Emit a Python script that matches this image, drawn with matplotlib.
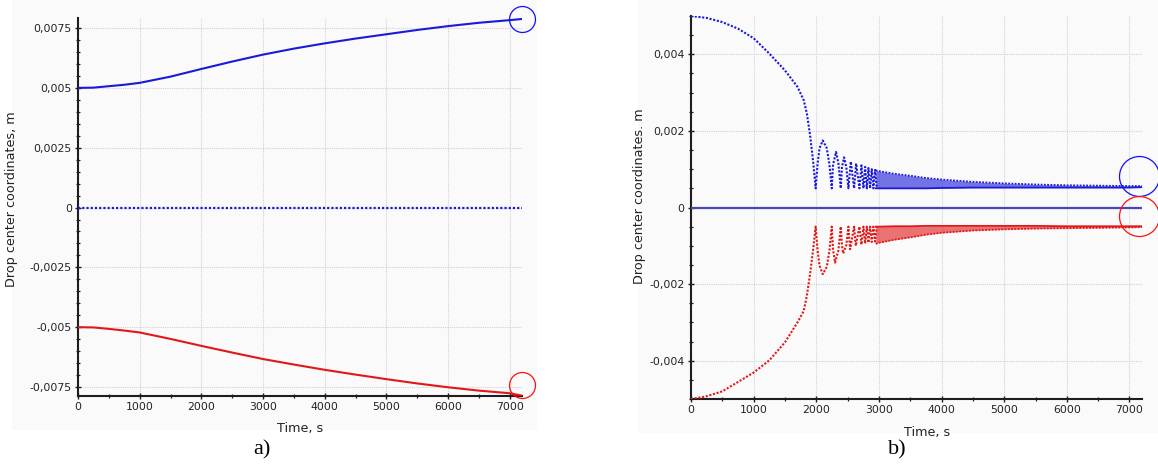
import matplotlib
matplotlib.use("Agg")
import matplotlib.pyplot as plt
from matplotlib.patches import Rectangle
from matplotlib.ticker import FixedLocator, MultipleLocator

# ---------------- panel a) : drop centres drifting apart ----------------
time_a = [0, 250, 500, 750, 1000, 1500, 2000, 2500, 3000, 3500, 4000, 4500,
          5000, 5500, 6000, 6500, 7000, 7200]
upper_a = [0.00500, 0.00501, 0.00507, 0.00513, 0.00521, 0.00547, 0.00579,
           0.00610, 0.00639, 0.00664, 0.00686, 0.00706, 0.00724, 0.00742,
           0.00758, 0.00772, 0.00783, 0.00788]
lower_a = [-0.00500, -0.00501, -0.00507, -0.00514, -0.00522, -0.00549,
           -0.00578, -0.00606, -0.00633, -0.00656, -0.00678, -0.00698,
           -0.00717, -0.00735, -0.00751, -0.00765, -0.00776, -0.00786]
centre_a_time = [0, 7200]
centre_a = [0.0, 0.0]
marks_a_time = [7200, 7200]
marks_a = [0.00789, -0.00742]

yticks_a = [-0.0075, -0.005, -0.0025, 0, 0.0025, 0.005, 0.0075]
ylabels_a = ['-0,0075', '-0,005', '-0,0025', '0', '0,0025', '0,005', '0,0075']

# ---------------- panel b) : drop centres converging ----------------
time_b_up = [0, 250, 500, 750, 1000, 1250, 1500, 1700, 1800, 1850, 1900,
             1950, 1990, 2020, 2052, 2104, 2168, 2210, 2247, 2268, 2316,
             2353, 2391, 2410, 2444, 2480, 2513, 2551, 2604, 2636, 2689,
             2721, 2753, 2780, 2807, 2833, 2859, 2886, 2912, 2939, 2966]
upper_b = [0.00500, 0.00495, 0.00484, 0.00467, 0.00442, 0.00402, 0.00358,
           0.00315, 0.00280, 0.00245, 0.00190, 0.00120, 0.00050, 0.00112,
           0.00155, 0.00175, 0.00155, 0.00112, 0.00050, 0.00112, 0.00145,
           0.00116, 0.00050, 0.00105, 0.00131, 0.00105, 0.00050, 0.00120,
           0.00050, 0.00115, 0.00050, 0.00110, 0.00050, 0.00106, 0.00050,
           0.00103, 0.00050, 0.00100, 0.00050, 0.00098, 0.00050]

time_b_low = [0, 224, 500, 1000, 1250, 1500, 1700, 1800, 1850, 1900, 1950,
              1990, 2020, 2052, 2104, 2168, 2210, 2247, 2268, 2300, 2353,
              2391, 2410, 2430, 2480, 2513, 2540, 2604, 2630, 2689, 2721,
              2753, 2780, 2807, 2833, 2859, 2886, 2912, 2939, 2966]
lower_b = [-0.00500, -0.00494, -0.00480, -0.00431, -0.00399, -0.00352,
           -0.00300, -0.00270, -0.00230, -0.00175, -0.00110, -0.00050,
           -0.00110, -0.00152, -0.00174, -0.00155, -0.00112, -0.00050,
           -0.00110, -0.00144, -0.00112, -0.00050, -0.00098, -0.00120,
           -0.00098, -0.00050, -0.00109, -0.00050, -0.00100, -0.00050,
           -0.00097, -0.00050, -0.00094, -0.00050, -0.00092, -0.00050,
           -0.00090, -0.00050, -0.00089, -0.00050]

# late, densely oscillating part: envelope of the fast oscillations
time_band = [2950, 3000, 3250, 3500, 3750, 4000, 4500, 5000, 5500, 6000,
             6500, 7000, 7200]
band_up_hi = [0.00097, 0.00095, 0.00088, 0.00083, 0.00077, 0.00073, 0.00067,
              0.00063, 0.00060, 0.00058, 0.00057, 0.00056, 0.00056]
band_up_lo = [0.00050, 0.00050, 0.00050, 0.00050, 0.00050, 0.00051, 0.00052,
              0.00052, 0.00052, 0.00052, 0.00052, 0.00052, 0.00053]
band_low_hi = [-0.00050, -0.00050, -0.00049, -0.00049, -0.00048, -0.00048,
               -0.00048, -0.00048, -0.00048, -0.00049, -0.00049, -0.00049,
               -0.00049]
band_low_lo = [-0.00095, -0.00092, -0.00084, -0.00078, -0.00071, -0.00066,
               -0.00060, -0.00057, -0.00055, -0.00054, -0.00053, -0.00052,
               -0.00051]
centre_b_time = [0, 7200]
centre_b = [0.0, 0.0]
marks_b_time = [7157, 7157]
marks_b = [0.00083, -0.00023]

yticks_b = [-0.004, -0.002, 0, 0.002, 0.004]
ylabels_b = ['-0,004', '-0,002', '0', '0,002', '0,004']

xticks = [0, 1000, 2000, 3000, 4000, 5000, 6000, 7000]
xlabels = [str(v) for v in xticks]

BLUE = '#1a1ad8'
RED = '#e01818'
CENTRE = '#4646c0'
GRID = '#d2d2d2'
SPINE = '#1e1e1e'
TICK_FS = 7.8
LABEL_FS = 9.2

W, H = 1158, 465
fig = plt.figure(figsize=(W / 100, H / 100), dpi=100)
fig.patch.set_facecolor('white')

# light panel backgrounds
for x0, y0, x1, y1 in [(12, 0, 537, 430), (638, 0, 1158, 433)]:
    fig.patches.append(Rectangle((x0 / W, 1 - y1 / H), (x1 - x0) / W,
                                 (y1 - y0) / H, transform=fig.transFigure,
                                 facecolor='#fafafa', edgecolor='none',
                                 zorder=-10))


def frame(ax, yticks, ylabels, ylim, ymin_step, ylabel, xlab_x, ylab_x,
          ylab_y):
    ax.set_facecolor('none')
    ax.set_xlim(0, 7200)
    ax.set_ylim(*ylim)
    ax.xaxis.set_major_locator(FixedLocator(xticks))
    ax.set_xticklabels(xlabels)
    ax.xaxis.set_minor_locator(MultipleLocator(500))
    ax.yaxis.set_major_locator(FixedLocator(yticks))
    ax.set_yticklabels(ylabels)
    ax.yaxis.set_minor_locator(MultipleLocator(ymin_step))
    for side in ('top', 'right'):
        ax.spines[side].set_visible(False)
    for side in ('left', 'bottom'):
        ax.spines[side].set_linewidth(1.5)
        ax.spines[side].set_color(SPINE)
    ax.tick_params(which='major', direction='inout', length=5, width=1.0,
                   color=SPINE, labelsize=TICK_FS, labelcolor='#222222',
                   pad=2)
    ax.tick_params(which='minor', direction='inout', length=3, width=0.9,
                   color=SPINE)
    ax.grid(True, which='major', color=GRID, linestyle=(0, (1, 1)),
            linewidth=0.8)
    ax.set_axisbelow(True)
    ax.set_xlabel('Time, s', fontsize=LABEL_FS, color='#222222')
    ax.set_ylabel(ylabel, fontsize=LABEL_FS, color='#222222')
    ax.xaxis.set_label_coords(xlab_x, -0.07)
    ax.yaxis.set_label_coords(ylab_x, ylab_y)


# ---- panel a ----
axa = fig.add_axes([78 / W, 1 - 396 / H, (522 - 78) / W, (396 - 18) / H])
frame(axa, yticks_a, ylabels_a, (-0.007875, 0.00792), 0.0005,
      'Drop center coordinates, m', 0.5, -0.135, 0.52)
axa.plot(time_a, upper_a, color=BLUE, lw=1.5, zorder=3)
axa.plot(time_a, lower_a, color=RED, lw=1.5, zorder=3)
axa.plot(centre_a_time, centre_a, color=BLUE, lw=1.6,
         linestyle=(0, (1, 0.9)), zorder=3)
axa.plot(marks_a_time[:1], marks_a[:1], 'o', ms=18.7, mfc='none',
         mec='#1010ff', mew=0.9, clip_on=False, zorder=5)
axa.plot(marks_a_time[1:], marks_a[1:], 'o', ms=18.7, mfc='none',
         mec='#ff1010', mew=0.9, clip_on=False, zorder=5)
fig.text(262 / W, 1 - 450 / H, 'a)', family='Liberation Serif',
         fontsize=16, ha='center', va='center')

# ---- panel b ----
axb = fig.add_axes([691 / W, 1 - 399 / H, (1142 - 691) / W, (399 - 16) / H])
frame(axb, yticks_b, ylabels_b, (-0.005, 0.005), 0.0005,
      'Drop center coordinates. m', 0.524, -0.1, 0.53)
dots = (0, (1, 0.8))
axb.plot(time_b_up, upper_b, color=BLUE, lw=1.5, linestyle=dots, zorder=3)
axb.plot(time_b_low, lower_b, color=RED, lw=1.5, linestyle=dots, zorder=3)
axb.fill_between(time_band, band_up_lo, band_up_hi, color=BLUE, alpha=0.6,
                 lw=0, zorder=3)
axb.plot(time_band, band_up_hi, color=BLUE, lw=1.3, linestyle=dots, zorder=3)
axb.plot(time_band, band_up_lo, color=BLUE, lw=1.3, zorder=3)
axb.fill_between(time_band, band_low_lo, band_low_hi, color=RED, alpha=0.6,
                 lw=0, zorder=3)
axb.plot(time_band, band_low_lo, color=RED, lw=1.3, linestyle=dots, zorder=3)
axb.plot(time_band, band_low_hi, color=RED, lw=1.3, zorder=3)
axb.plot(centre_b_time, centre_b, color=CENTRE, lw=1.6, zorder=4)
axb.plot(marks_b_time[:1], marks_b[:1], 'o', ms=28.8, mfc='none',
         mec='#1010ff', mew=0.9, clip_on=False, zorder=5)
axb.plot(marks_b_time[1:], marks_b[1:], 'o', ms=28.8, mfc='none',
         mec='#ff1010', mew=0.9, clip_on=False, zorder=5)
fig.text(897 / W, 1 - 450 / H, 'b)', family='Liberation Serif',
         fontsize=16, ha='center', va='center')

fig.savefig('out.png', dpi=100)
